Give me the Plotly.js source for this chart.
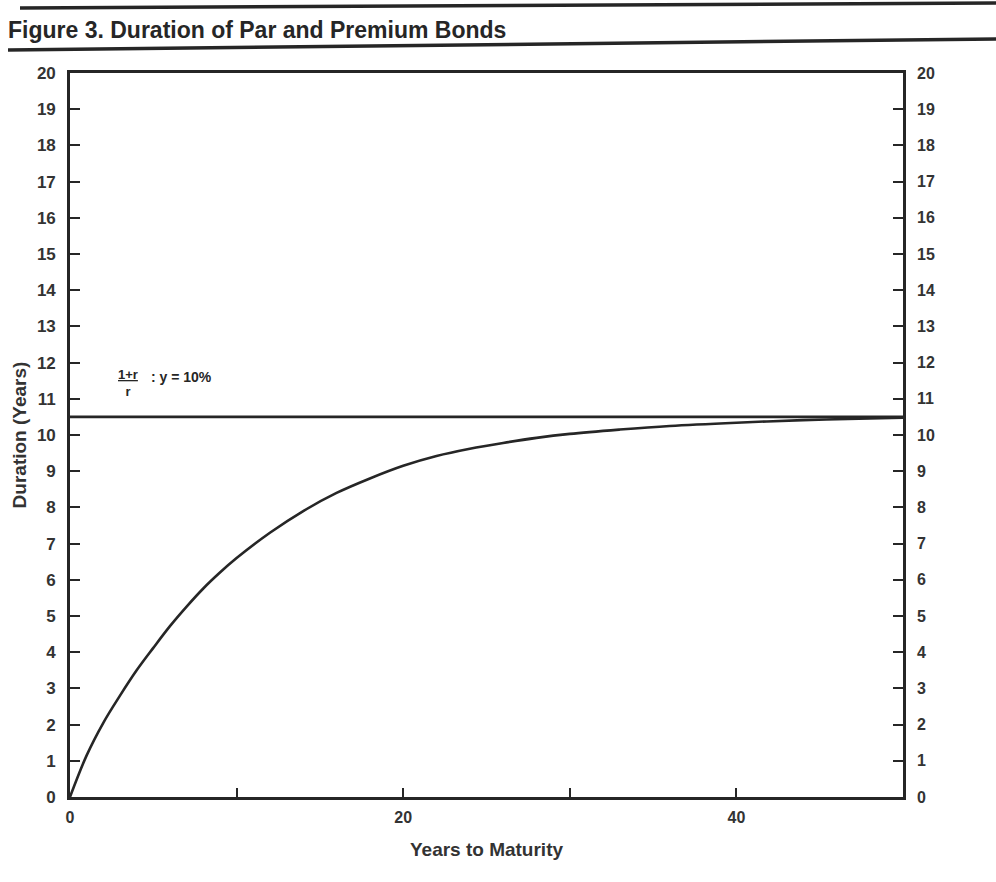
<!DOCTYPE html>
<html>
<head>
<meta charset="utf-8">
<script src="https://cdn.plot.ly/plotly-3.0.1.min.js"></script>
<style>html,body{margin:0;padding:0;background:#fff;}#chart{width:996px;height:882px;}</style>
</head>
<body>
<div id="chart"></div>
<script>
// Years to maturity and duration of a par bond
const maturity = [0, 1, 2, 3, 4, 5, 6, 7, 8, 9, 10, 12, 14, 16, 18, 20, 22, 24, 26, 28, 30, 33, 36, 40, 44, 48, 50];
const duration = [0, 1.15, 2.05, 2.8, 3.5, 4.12, 4.72, 5.26, 5.76, 6.2, 6.6, 7.3, 7.9, 8.4, 8.8, 9.15, 9.42, 9.62, 9.78, 9.92, 10.03, 10.15, 10.25, 10.34, 10.41, 10.46, 10.48];
// Limit (1+r)/r drawn as a horizontal line
const limitX = [0, 50];
const limitY = [10.5, 10.5];
// Tick labels
const xTickVals = [0, 10, 20, 30, 40, 50];
const xTickText = ['0', '', '20', '', '40', ''];
const yTickVals = [0,1,2,3,4,5,6,7,8,9,10,11,12,13,14,15,16,17,18,19,20];
const yTickText = yTickVals.map(String);

const ink = '#262626';
const lab = '#333333';
const fnt = 'Liberation Sans, Arial, sans-serif';

const traces = [
  {x: limitX, y: limitY, mode: 'lines', line: {color: ink, width: 2.8}, hoverinfo: 'skip', showlegend: false},
  {x: maturity, y: duration, mode: 'lines', line: {color: ink, width: 2.6, shape: 'spline', smoothing: 1}, showlegend: false},
  {x: [0], y: [0], yaxis: 'y2', mode: 'markers', marker: {opacity: 0}, hoverinfo: 'skip', showlegend: false}
];

const layout = {
  width: 996, height: 882,
  paper_bgcolor: '#ffffff', plot_bgcolor: '#ffffff',
  margin: {l: 70, r: 93, t: 73, b: 85},
  font: {family: fnt, color: ink},
  title: {text: 'Figure 3. Duration of Par and Premium Bonds', xref: 'container', yref: 'container',
          x: 8/996, xanchor: 'left', y: 1 - 30/882, yanchor: 'middle',
          font: {family: fnt, size: 23, weight: 'bold', color: ink}},
  xaxis: {range: [0, 50], tickvals: xTickVals, ticktext: xTickText, ticks: 'inside', ticklen: 9, tickwidth: 2,
          tickcolor: ink, showline: true, linewidth: 2.8, linecolor: ink, mirror: true, showgrid: false, zeroline: false,
          ticklabelstandoff: 4,
          tickfont: {size: 16, weight: 'bold', color: lab},
          title: {text: 'Years to Maturity', standoff: 18, font: {size: 19, weight: 'bold', color: lab}}},
  yaxis: {range: [0, 20], tickvals: yTickVals, ticktext: yTickText, ticks: 'inside', ticklen: 10, tickwidth: 2,
          tickcolor: ink, showline: true, linewidth: 2.8, linecolor: ink, mirror: true, showgrid: false, zeroline: false,
          ticklabelstandoff: 8,
          tickfont: {size: 17, weight: 'bold', color: lab},
          title: {text: 'Duration (Years)', standoff: 6, font: {size: 19, weight: 'bold', color: lab}}},
  yaxis2: {range: [0, 20], overlaying: 'y', side: 'right', tickvals: yTickVals, ticktext: yTickText,
           ticks: 'inside', ticklen: 10, tickwidth: 2, tickcolor: ink, showline: true, linewidth: 2.8, linecolor: ink,
           ticklabelstandoff: 8,
           showgrid: false, zeroline: false, tickfont: {size: 16, weight: 'bold', color: lab}},
  annotations: [
    {xref: 'paper', yref: 'y', x: 0.07, y: 11.45, xanchor: 'center', yanchor: 'middle', showarrow: false, align: 'center',
     text: '<u>1+r</u><br>r', font: {size: 13, weight: 'bold', color: ink}},
    {xref: 'paper', yref: 'y', x: 0.095, y: 11.6, xanchor: 'left', yanchor: 'middle', showarrow: false,
     text: ': y = 10%', font: {size: 14, weight: 'bold', color: ink}}
  ],
  shapes: [
    {type: 'line', xref: 'paper', yref: 'paper', x0: (20-70)/833, x1: (996-70)/833, y0: (797-8)/724, y1: (797-3)/724, line: {color: ink, width: 3.5}},
    {type: 'line', xref: 'paper', yref: 'paper', x0: (8-70)/833, x1: (996-70)/833, y0: (797-50)/724, y1: (797-39)/724, line: {color: ink, width: 3.5}}
  ]
};

Plotly.newPlot('chart', traces, layout, {displayModeBar: false, staticPlot: true});
</script>
</body>
</html>
